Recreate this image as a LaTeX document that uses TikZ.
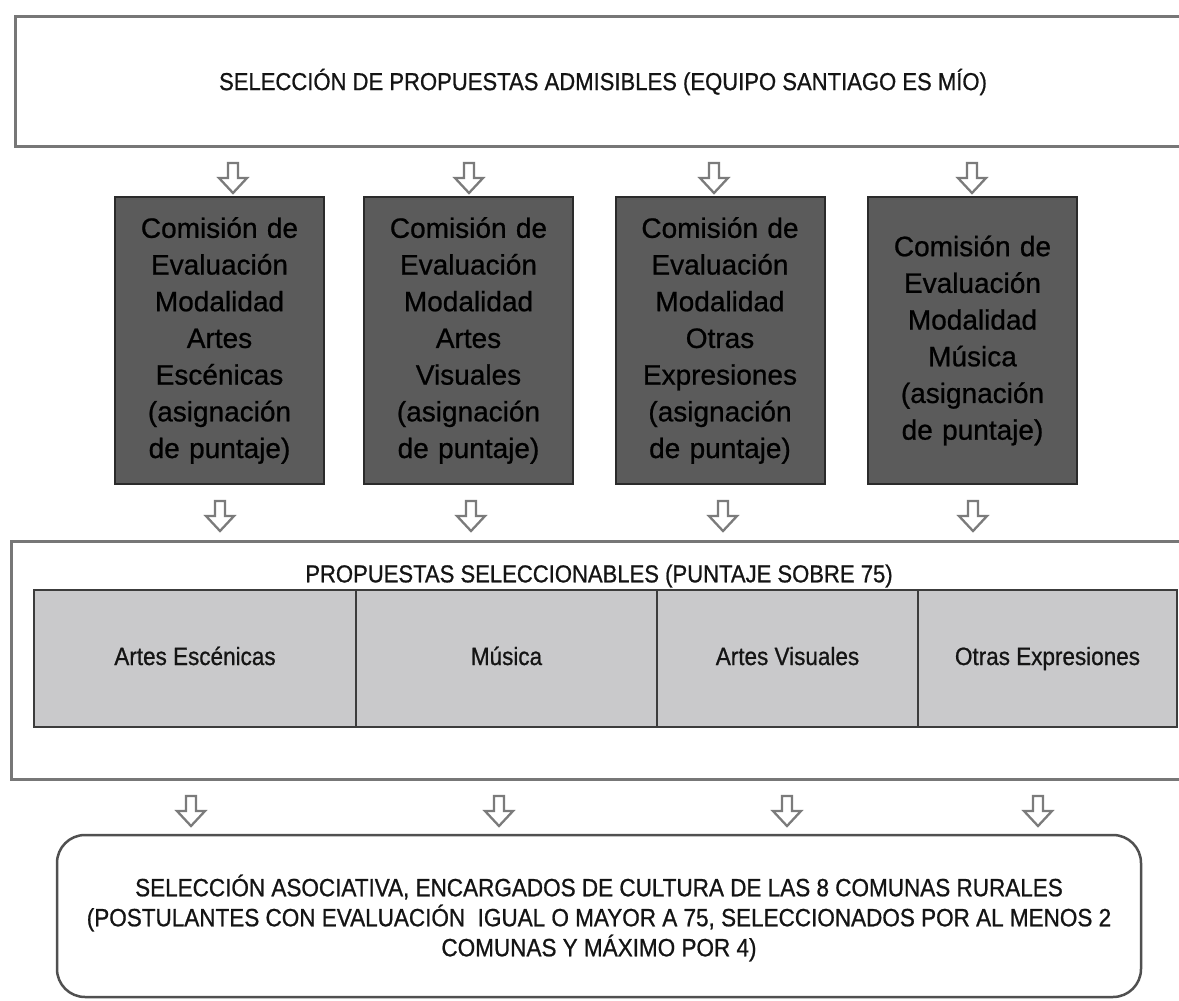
\documentclass[tikz,border=0pt]{standalone}
\usepackage{fontspec}
\setmainfont{Liberation Sans}[FakeBold=0.8]
\newfontfamily\narrowsf{Liberation Sans}[FakeStretch=0.9,FakeBold=0.8]
\definecolor{boxgray}{HTML}{777777}
\definecolor{darkfill}{HTML}{5B5B5B}
\definecolor{darkedge}{HTML}{2B2B2B}
\definecolor{cellfill}{HTML}{C9C9CB}
\definecolor{celledge}{HTML}{3C3C3C}
\definecolor{roundedge}{HTML}{505050}
\definecolor{arrowgray}{HTML}{7B7B7B}
\definecolor{ink}{HTML}{141414}
\begin{document}
\begin{tikzpicture}[x=1pt,y=-1pt,
  outerbox/.style={draw=boxgray, line width=3pt, fill=white, inner sep=0pt},
  darkbox/.style={draw=darkedge, line width=2pt, fill=darkfill, minimum width=209pt, minimum height=287pt,
    inner sep=0pt, text width=205pt, align=center, font=\fontsize{28}{36.7}\selectfont, text=black},
  cell/.style={draw=celledge, line width=1.5pt, fill=cellfill, minimum height=137pt, inner sep=0pt,
    text height=18pt, text depth=5pt,
    font=\narrowsf\fontsize{25}{30}\selectfont, text=ink},
  caps/.style={inner sep=0pt, text=ink, align=center, font=\narrowsf\fontsize{24.5}{30}\selectfont},
  roundbox/.style={draw=roundedge, line width=2.5pt, rounded corners=28pt, fill=white, inner sep=0pt},
  hollowarrow/.pic={\draw[draw=arrowgray, line width=2.3pt, fill=white, line join=miter]
     (-5,0) -- (-5,15) -- (-14,15) -- (0,30) -- (14,15) -- (5,15) -- (5,0) -- cycle;}
]
\clip (0,0) rectangle (1179,1001);
\fill[white] (0,0) rectangle (1179,1001);

% top box
\node[outerbox, minimum width=1175pt, minimum height=130pt] (topbox) at (602.5,81) {};
\node[caps] (toptext) at (603,82) {SELECCIÓN DE PROPUESTAS ADMISIBLES (EQUIPO SANTIAGO ES MÍO)};

% row 1 arrows
\pic at (233,163) {hollowarrow};
\pic at (469,163) {hollowarrow};
\pic at (714,163) {hollowarrow};
\pic at (972,163) {hollowarrow};

% dark boxes
\node[darkbox] (c1) at (219.5,340.5) {Comisión de\\Evaluación\\Modalidad\\Artes\\Escénicas\\(asignación\\de puntaje)};
\node[darkbox] (c2) at (468.5,340.5) {Comisión de\\Evaluación\\Modalidad\\Artes\\Visuales\\(asignación\\de puntaje)};
\node[darkbox] (c3) at (720,340.5) {Comisión de\\Evaluación\\Modalidad\\Otras\\Expresiones\\(asignación\\de puntaje)};
\node[darkbox] (c4) at (972.5,340.5) {Comisión de\\Evaluación\\Modalidad\\Música\\(asignación\\de puntaje)};

% row 2 arrows
\pic at (220,501) {hollowarrow};
\pic at (471,501) {hollowarrow};
\pic at (723,501) {hollowarrow};
\pic at (973,501) {hollowarrow};

% middle box
\node[outerbox, minimum width=1179pt, minimum height=238pt] (midbox) at (600.5,660) {};
\node[caps] (midtext) at (599,576) {PROPUESTAS SELECCIONABLES (PUNTAJE SOBRE 75)};
\node[cell, minimum width=322pt] (s1) at (195,658.5) {Artes Escénicas};
\node[cell, minimum width=301pt] (s2) at (506.5,658.5) {Música};
\node[cell, minimum width=261pt] (s3) at (787.5,658.5) {Artes Visuales};
\node[cell, minimum width=259pt] (s4) at (1047.5,658.5) {Otras Expresiones};

% row 3 arrows
\pic at (191,796) {hollowarrow};
\pic at (499,796) {hollowarrow};
\pic at (787,796) {hollowarrow};
\pic at (1038,796) {hollowarrow};

% bottom box
\node[roundbox, minimum width=1084pt, minimum height=162pt] (final) at (599,916) {};
\node[caps, font=\narrowsf\fontsize{25}{30}\selectfont] (finaltext) at (599,918)
  {SELECCIÓN ASOCIATIVA, ENCARGADOS DE CULTURA DE LAS 8 COMUNAS RURALES\\
   (POSTULANTES CON EVALUACIÓN\ \ IGUAL O MAYOR A 75, SELECCIONADOS POR AL MENOS 2\\
   COMUNAS Y MÁXIMO POR 4)};
\end{tikzpicture}
\end{document}
